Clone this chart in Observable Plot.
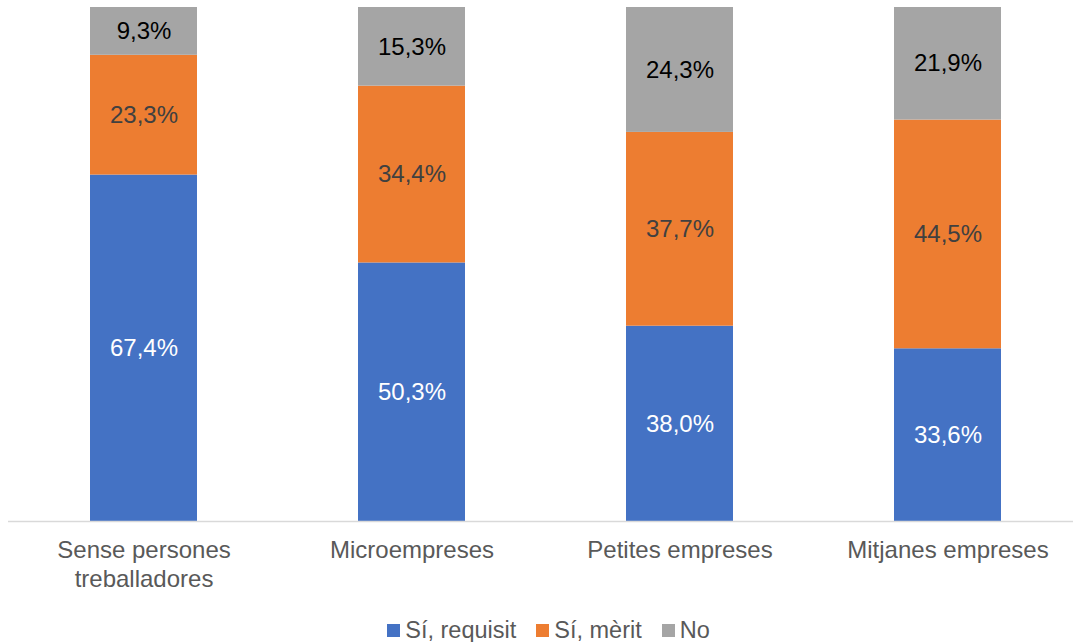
<!DOCTYPE html>
<html>
<head>
<meta charset="utf-8">
<script src="https://cdn.jsdelivr.net/npm/d3@7"></script>
<script src="https://cdn.jsdelivr.net/npm/@observablehq/plot@0.6"></script>
<style>
  body { margin: 0; background: #fff; font-family: "Liberation Sans", Arial, sans-serif; }
  #legend { display: flex; justify-content: center; align-items: center; margin-top: 18px; line-height: 24px; height: 24px; font-size: 23.5px; color: #595959; padding-left: 24px; }
  #legend .item { display: flex; align-items: center; margin: 0 10px; }
  #legend .sw { width: 13px; height: 13px; margin-right: 5px; }
</style>
</head>
<body>
<div id="chart"></div>
<div id="legend"></div>
<script>
const categories = ["Sense persones\ntreballadores", "Microempreses", "Petites empreses", "Mitjanes empreses"];
const seriesNames = ["Sí, requisit", "Sí, mèrit", "No"];
const requisit = [67.4, 50.3, 38.0, 33.6];
const merit = [23.3, 34.4, 37.7, 44.5];
const no = [9.3, 15.3, 24.3, 21.9];
const colors = ["#4472C4", "#ED7D31", "#A5A5A5"];
const labelColors = ["#ffffff", "#404040", "#000000"];

const seriesValues = [requisit, merit, no];
const data = [];
seriesNames.forEach((s, si) => {
  categories.forEach((c, ci) => {
    data.push({cat: c, series: s, value: seriesValues[si][ci]});
  });
});
const fmt = v => v.toFixed(1).replace(".", ",") + "%";

const textMarks = seriesNames.map((s, si) =>
  Plot.text(data, Plot.stackY({
    x: "cat", y: "value", z: "series", order: seriesNames,
    text: d => d.series === s ? fmt(d.value) : "",
    fill: labelColors[si], fontSize: 24
  }))
);

const chart = Plot.plot({
  width: 1073,
  height: 600,
  marginLeft: 8,
  marginRight: 0,
  marginTop: 7,
  marginBottom: 79,
  style: {fontFamily: "Liberation Sans, Arial, sans-serif", background: "#fff"},
  x: {domain: categories, range: [8, 1083.5], paddingInner: 0.6, paddingOuter: 0.3, label: null},
  y: {domain: [0, 100], axis: null},
  color: {domain: seriesNames, range: colors},
  marks: [
    Plot.barY(data, {x: "cat", y: "value", fill: "series", order: seriesNames}),
    Plot.ruleY([0], {stroke: "#d9d9d9", strokeWidth: 1.5}),
    ...textMarks,
    Plot.axisX({tickSize: 0, tickPadding: 17, fontSize: 24, fill: "#595959", lineHeight: 1.17, label: null})
  ]
});
document.getElementById("chart").appendChild(chart);

const legend = document.getElementById("legend");
seriesNames.forEach((s, i) => {
  const item = document.createElement("div");
  item.className = "item";
  const sw = document.createElement("div");
  sw.className = "sw";
  sw.style.background = colors[i];
  const t = document.createElement("span");
  t.textContent = s;
  item.appendChild(sw);
  item.appendChild(t);
  legend.appendChild(item);
});
</script>
</body>
</html>
